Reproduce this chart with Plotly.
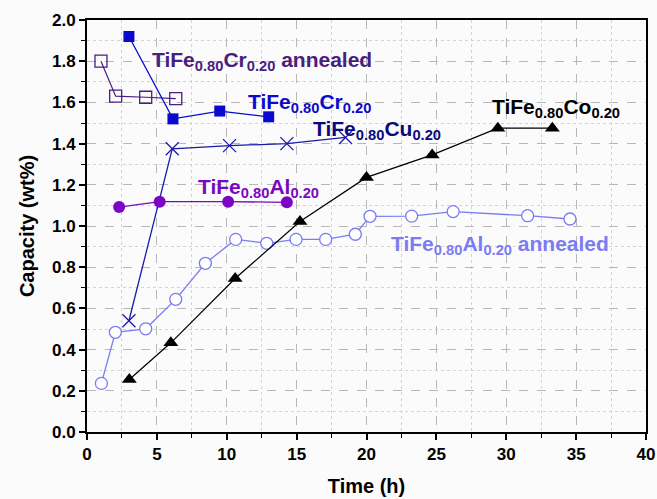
import plotly.graph_objects as go

# Data
cr_ann_x = [1.0, 2.05, 4.2, 6.35]
cr_ann_y = [1.80, 1.63, 1.625, 1.618]
cr_x = [3.0, 6.15, 9.5, 13.0]
cr_y = [1.92, 1.52, 1.558, 1.53]
cu_x = [3.0, 6.1, 10.2, 14.3, 18.5]
cu_y = [0.54, 1.375, 1.39, 1.40, 1.43]
al_x = [2.3, 5.2, 10.1, 14.3]
al_y = [1.092, 1.118, 1.118, 1.115]
al_ann_x = [1.03, 2.03, 4.2, 6.35, 8.47, 10.64, 12.86, 14.96, 17.08, 19.2, 20.25, 23.23, 26.2, 31.53, 34.56]
al_ann_y = [0.236, 0.484, 0.501, 0.644, 0.819, 0.935, 0.916, 0.935, 0.935, 0.96, 1.047, 1.048, 1.07, 1.05, 1.034]
co_x = [3.03, 6.0, 10.6, 15.24, 20.0, 24.7, 29.4, 33.3]
co_y = [0.255, 0.433, 0.745, 1.022, 1.236, 1.345, 1.475, 1.475]

C_CRANN = "#4a1d80"
C_CR = "#0a0acc"
C_CU = "#1a1aa8"
C_CU_TXT = "#0a0a80"
C_AL = "#7a06c4"
C_ALANN = "#7b7bf2"
C_CO = "#000000"

fig = go.Figure()
fig.add_trace(go.Scatter(x=cr_ann_x, y=cr_ann_y, mode="lines+markers",
                         line=dict(color=C_CRANN, width=1.2),
                         marker=dict(symbol="square-open", size=12, color=C_CRANN, line=dict(width=1.3))))
fig.add_trace(go.Scatter(x=cr_x, y=cr_y, mode="lines+markers",
                         line=dict(color=C_CR, width=1.3),
                         marker=dict(symbol="square", size=11, color=C_CR)))
fig.add_trace(go.Scatter(x=cu_x, y=cu_y, mode="lines+markers",
                         line=dict(color=C_CU, width=1.3),
                         marker=dict(symbol="x-thin", size=13, line=dict(color=C_CU, width=1.3))))
fig.add_trace(go.Scatter(x=al_x, y=al_y, mode="lines+markers",
                         line=dict(color=C_AL, width=1.3),
                         marker=dict(symbol="circle", size=12, color=C_AL)))
fig.add_trace(go.Scatter(x=al_ann_x, y=al_ann_y, mode="lines+markers",
                         line=dict(color=C_ALANN, width=1.3),
                         marker=dict(symbol="circle", size=12, color="white", line=dict(color=C_ALANN, width=1.3))))
fig.add_trace(go.Scatter(x=co_x, y=co_y, mode="lines+markers",
                         line=dict(color=C_CO, width=1.2),
                         marker=dict(symbol="triangle-up", size=13, color=C_CO)))

LF = "Liberation Sans, Arial, sans-serif"

def lab(text, x, y, color):
    fig.add_annotation(x=x, y=y, xref="x", yref="y", text=text, showarrow=False,
                       xanchor="left", yanchor="middle", xshift=-2,
                       font=dict(family=LF, size=21, color=color))

lab("<b>TiFe<sub>0.80</sub>Cr<sub>0.20</sub> annealed</b>", 4.65, 1.80, C_CRANN)
lab("<b>TiFe<sub>0.80</sub>Cr<sub>0.20</sub></b>", 11.5, 1.595, C_CR)
lab("<b>TiFe<sub>0.80</sub>Cu<sub>0.20</sub></b>", 16.2, 1.465, C_CU_TXT)
lab("<b>TiFe<sub>0.80</sub>Co<sub>0.20</sub></b>", 29.0, 1.575, C_CO)
lab("<b>TiFe<sub>0.80</sub>Al<sub>0.20</sub></b>", 7.95, 1.185, C_AL)
lab("<b>TiFe<sub>0.80</sub>Al<sub>0.20</sub> annealed</b>", 21.75, 0.91, C_ALANN)

axis_common = dict(showline=True, linecolor="black", linewidth=2, mirror=True,
                   ticks="outside", ticklen=6, tickwidth=1.5, tickcolor="black",
                   showgrid=True, gridcolor="#b8b8b8", griddash="dash", gridwidth=1,
                   zeroline=False, automargin=False,
                   tickfont=dict(family=LF, size=17, color="black", weight="bold"))

fig.update_xaxes(range=[0, 40], tick0=0, dtick=5,
                 minor=dict(dtick=2.5, ticks="outside", ticklen=4, tickcolor="black", tickwidth=1.2,
                            showgrid=True, gridcolor="#d4d4d4", griddash="dot", gridwidth=1),
                 title=dict(text="<b>Time (h)</b>", font=dict(family=LF, size=20, color="black"), standoff=16),
                 **axis_common)
fig.update_yaxes(range=[0, 2.0], tick0=0, dtick=0.2, tickformat=".1f",
                 minor=dict(dtick=0.1, ticks="outside", ticklen=4, tickcolor="black", tickwidth=1.2,
                            showgrid=True, gridcolor="#d4d4d4", griddash="dot", gridwidth=1),
                 title=dict(text="<b>Capacity (wt%)</b>", font=dict(family=LF, size=20, color="black"), standoff=12),
                 **axis_common)

fig.update_layout(width=657, height=499, showlegend=False,
                  margin=dict(l=87, r=11, t=20, b=67),
                  paper_bgcolor="#fbfbfb", plot_bgcolor="#fbfbfb")

# remove the browser's default 8px body margin so the figure fills the window exactly
fig.write_html("out.html", config={"displayModeBar": False},
               post_script="document.body.style.margin='0';document.body.style.overflow='hidden';")
